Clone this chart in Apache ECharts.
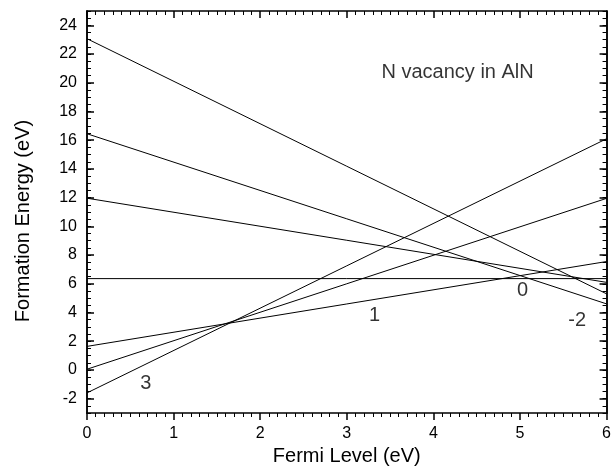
<!DOCTYPE html>
<html>
<head>
<meta charset="utf-8">
<script src="https://cdn.jsdelivr.net/npm/echarts@6/dist/echarts.min.js"></script>
<style>
  html, body { margin: 0; padding: 0; background: #fff; }
  #chart { width: 614px; height: 472px; }
</style>
</head>
<body>
<div id="chart"></div>
<script>
// Fermi level end points (eV)
const fermi = [0, 6];
// formation energy at the two ends, one line per charge state
const chargeStates = ['3', '2', '1', '0', '-1', '-2', '-3'];
const eQ3 = [-1.6, 16.1];
const eQ2 = [0.05, 11.95];
const eQ1 = [1.64, 7.55];
const eQ0 = [6.36, 6.36];
const eQm1 = [11.96, 6.1];
const eQm2 = [16.45, 4.6];
const eQm3 = [23.07, 5.3];

// text placed in data coordinates
const lineLabels = [
  [0.68, -0.93, '3'],
  [3.32, 3.78, '1'],
  [5.03, 5.5, '0'],
  [5.66, 3.43, '-2'],
  [4.28, 20.7, 'N vacancy in AlN']
];

const xTicks = [0, 1, 2, 3, 4, 5, 6];
const yTicks = [-2, 0, 2, 4, 6, 8, 10, 12, 14, 16, 18, 20, 22, 24];

const font = 'Liberation Sans, Arial, sans-serif';
const chart = echarts.init(document.getElementById('chart'));

function pts(e) {
  return fermi.map((x, i) => [x, e[i]]);
}
const energies = [eQ3, eQ2, eQ1, eQ0, eQm1, eQm2, eQm3];

let lineSeries = energies.map((e, i) => ({
  name: chargeStates[i],
  type: 'line',
  data: pts(e),
  symbol: 'none',
  lineStyle: { color: '#000', width: 1 },
  silent: true
}));

let axLine = { show: true, onZero: false, lineStyle: { color: '#000', width: 1.5 } };

let baseY = {
  type: 'value',
  min: -3,
  max: 25,
  splitLine: { show: false },
  axisLine: axLine
};

let option = {
  animation: false,
  grid: { left: 87, right: 7, top: 11, bottom: 59 },
  graphic: [{
    type: 'text',
    x: 23,
    y: 221,
    rotation: Math.PI / 2,
    style: {
      text: 'Formation Energy (eV)',
      fill: '#000',
      font: '20px ' + font,
      textAlign: 'center',
      textVerticalAlign: 'middle'
    }
  }],
  xAxis: [
    {
      type: 'value', min: 0, max: 6, interval: 1,
      name: 'Fermi Level (eV)',
      nameLocation: 'middle',
      nameGap: 33,
      nameTextStyle: { color: '#000', fontSize: 20, fontFamily: font },
      axisLine: axLine,
      axisTick: { show: true, inside: false, length: 7, lineStyle: { color: '#000', width: 1.5 }, customValues: xTicks },
      minorTick: { show: true, splitNumber: 10, length: 4, lineStyle: { color: '#000', width: 1 } },
      axisLabel: { color: '#000', fontSize: 16, fontFamily: font, margin: 13, customValues: xTicks },
      splitLine: { show: false }
    },
    {
      type: 'value', min: 0, max: 6, interval: 1, position: 'top',
      axisLine: axLine,
      axisTick: { show: true, inside: true, length: 7, lineStyle: { color: '#000', width: 1.5 } },
      minorTick: { show: true, splitNumber: 10, length: 4, lineStyle: { color: '#000', width: 1 } },
      axisLabel: { show: false },
      splitLine: { show: false }
    }
  ],
  yAxis: [
    Object.assign({}, baseY, {
      position: 'left',
      axisTick: { show: true, inside: true, length: 7, lineStyle: { color: '#000', width: 1.5 }, customValues: yTicks },
      axisLabel: { color: '#000', fontSize: 16, fontFamily: font, margin: 10, customValues: yTicks }
    }),
    Object.assign({}, baseY, {
      position: 'left',
      interval: 0.5,
      axisTick: { show: true, inside: true, length: 4, lineStyle: { color: '#000', width: 1 } },
      axisLabel: { show: false }
    }),
    Object.assign({}, baseY, {
      position: 'right',
      axisTick: { show: true, inside: true, length: 7, lineStyle: { color: '#000', width: 1.5 }, customValues: yTicks },
      axisLabel: { show: false }
    }),
    Object.assign({}, baseY, {
      position: 'right',
      interval: 0.5,
      axisTick: { show: true, inside: true, length: 4, lineStyle: { color: '#000', width: 1 } },
      axisLabel: { show: false }
    })
  ],
  series: lineSeries.concat([{
    type: 'scatter',
    data: lineLabels,
    symbolSize: 0,
    silent: true,
    label: {
      show: true,
      position: 'inside',
      formatter: p => p.data[2],
      color: '#000',
      fontSize: 20,
      fontFamily: font
    }
  }])
};

chart.setOption(option);
</script>
</body>
</html>
